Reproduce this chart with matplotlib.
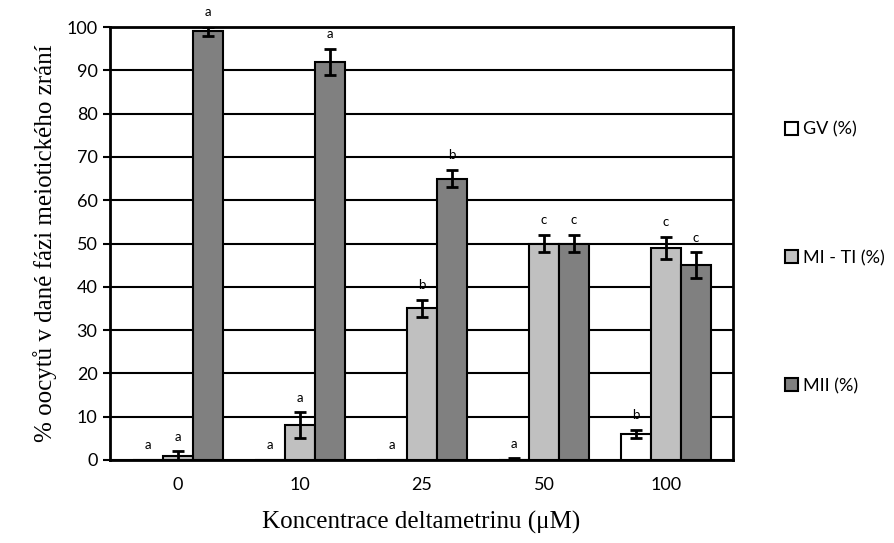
import matplotlib.pyplot as plt
import numpy as np

# concentrations and series
concentrations = ['0', '10', '25', '50', '100']
series_names = ['GV (%)', 'MI - TI (%)', 'MII (%)']
gv = [0, 0, 0, 0, 6]
mi_ti = [1, 8, 35, 50, 49]
mii = [99, 92, 65, 50, 45]
gv_err = [0, 0, 0, 0.4, 1]
mi_ti_err = [1, 3, 2, 2, 2.5]
mii_err = [1, 3, 2, 2, 3]
gv_letters = ['a', 'a', 'a', 'a', 'b']
mi_ti_letters = ['a', 'a', 'b', 'c', 'c']
mii_letters = ['a', 'a', 'b', 'c', 'c']

colors = ['white', '#c0c0c0', '#808080']

fig = plt.figure(figsize=(8.94, 5.43), dpi=100)
ax = fig.add_axes([0.123, 0.153, 0.697, 0.797])

x = np.arange(len(concentrations))
w = 0.246
values = [gv, mi_ti, mii]
errors = [gv_err, mi_ti_err, mii_err]
letters = [gv_letters, mi_ti_letters, mii_letters]

ax.set_axisbelow(True)
ax.yaxis.grid(True, color='black', linewidth=1.5)

handles = []
for i in range(3):
    pos = x + (i - 1) * w
    b = ax.bar(pos, values[i], w, color=colors[i], edgecolor='black',
               linewidth=1.5, label=series_names[i], zorder=2)
    handles.append(b)
    for j in range(len(x)):
        if errors[i][j] > 0:
            ax.errorbar(pos[j], values[i][j], yerr=errors[i][j], fmt='none',
                        ecolor='black', elinewidth=2, capsize=4, capthick=2,
                        zorder=3)
        ax.text(pos[j], values[i][j] + errors[i][j] + 2.0, letters[i][j],
                ha='center', va='bottom', fontsize=9.5, family='Lato')

ax.set_xlim(-0.557, 4.55)
ax.set_ylim(0, 100)
ax.set_yticks(range(0, 101, 10))
ax.set_xticks(x)
ax.set_xticklabels(concentrations)
ax.tick_params(axis='x', length=0, pad=12)
ax.tick_params(axis='y', length=5, width=1.5, direction='out', pad=4)
for lab in ax.get_xticklabels() + ax.get_yticklabels():
    lab.set_family('Lato')
    lab.set_fontsize(13)
for s in ax.spines.values():
    s.set_linewidth(2)

ax.set_ylabel('% oocytů v dané fázi meiotického zrání', family='Liberation Serif',
              fontsize=18, labelpad=7)
ax.set_xlabel('Koncentrace deltametrinu (μM)', family='Liberation Serif',
              fontsize=18, labelpad=13)

leg = fig.legend(handles=handles, loc='center left', bbox_to_anchor=(0.86, 0.525),
                 frameon=False, labelspacing=6.2, handlelength=0.7, handleheight=0.7,
                 handletextpad=0.3, prop={'family': 'Lato', 'size': 13})

fig.savefig('out.png', dpi=100)
